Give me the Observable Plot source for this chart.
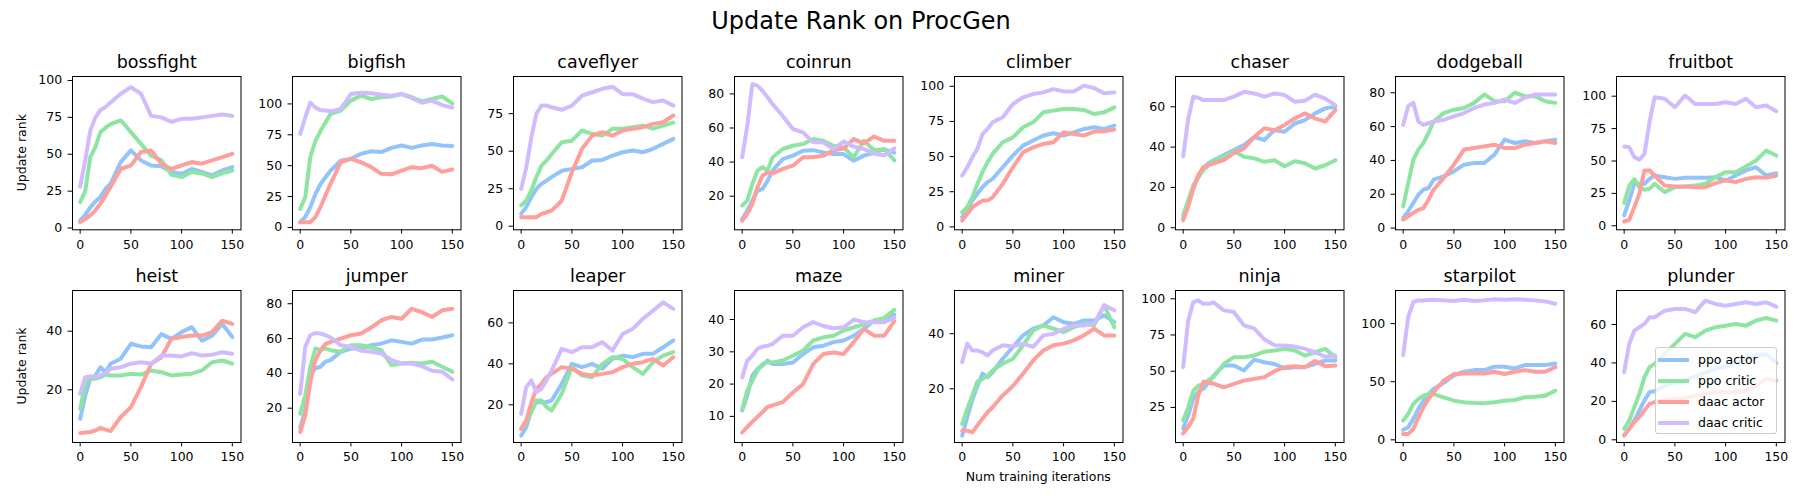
<!DOCTYPE html>
<html><head><meta charset="utf-8">
<script src="https://cdn.jsdelivr.net/npm/d3@7"></script>
<script src="https://cdn.jsdelivr.net/npm/@observablehq/plot@0.6"></script>
<style>
body{margin:0;background:#fff;font-family:"DejaVu Sans",sans-serif;}
#fig{position:relative;width:1800px;height:500px;overflow:hidden;background:#fff;}
#fig svg.pl{position:absolute;}
#legend{position:absolute;left:1655px;top:347px;width:122px;height:87px;border:1px solid #cccccc;border-radius:3px;background:rgba(255,255,255,0.8);box-sizing:border-box;}
.li{position:absolute;left:0;height:20px;width:120px;}
.li svg{position:absolute;left:1px;top:0;}
.li span{position:absolute;left:42px;top:1px;font-size:12.5px;line-height:18px;color:#000;white-space:nowrap;}
</style></head><body><div id="fig"></div>
<script>
// iterations at which values were read
const xs = [0,5,10,15,20,25,30,40,50,60,70,80,90,100,110,120,130,140,150];
const envs = ["bossfight","bigfish","caveflyer","coinrun","climber","chaser","dodgeball","fruitbot",
              "heist","jumper","leaper","maze","miner","ninja","starpilot","plunder"];
const seriesNames = ["ppo actor","ppo critic","daac actor","daac critic"];
const colors = ["#92c3fa","#8de5a1","#ff9f9b","#d0bbff"];
const xTicks = [0,50,100,150];
const xDomain = [-7.55,158.55];
const yTicks = [[0,25,50,75,100],[0,25,50,75,100],[0,25,50,75],[20,40,60,80],[0,25,50,75,100],[0,20,40,60],[0,20,40,60,80],[0,25,50,75,100],
                [20,40],[20,40,60,80],[20,40,60],[10,20,30,40],[20,40],[25,50,75,100],[0,50,100],[0,20,40,60]];
const yDomains = [[-1.2,102.7],[-1.9,122.2],[-2.4,99.8],[0.3,90.2],[-2.1,107],[-1,75],[-1,89.6],[-3.1,115.2],
                  [2,53.9],[0.3,87.6],[1.6,75.8],[1.9,49],[0.5,55.7],[0.8,105.7],[-2.3,128.5],[-1.4,77.7]];

// one row per environment, in envs order
const ppoActor = [
 [5,9,14,18,21,26.6,30,44.7,52.6,45.8,42.4,41.8,38,36.8,40,38,35.7,39,41.3],
 [4.3,8.4,16.4,27,35,40.7,46,54,55.5,59.6,61.7,61,64.4,66.3,64.4,66.3,67.6,66.3,66],
 [8.2,12.7,19.3,24.9,28.2,30.4,32.7,37,38.2,39.3,43.8,44.2,47,49.3,50.4,49.3,51.6,54.9,58.2],
 [6.6,11.5,17.4,23.2,24.2,29,35,41.8,43.8,46.7,47,45.7,44.7,44.7,40.8,43.8,45.5,47.5,45.5],
 [6.9,11.6,18.7,23.5,28.2,31.8,34.1,42.4,50.7,57.8,61.4,65,66.6,65,67.3,69.7,70.9,69.7,72],
 [4.6,12,19.5,26,29.4,32,33.5,36,38.5,41,45,43.5,48.4,47.6,51.7,53.4,56.7,59.2,60],
 [6,10,14.8,19.7,22.7,23.7,28.6,30.6,33.5,37.5,38.5,38.5,43.4,52.3,50.3,51.3,50.3,51.3,52.3],
 [8,19.5,32.4,32.4,32.4,36.2,38.8,37.5,36.2,37,37,37,37.5,35,38.8,42.7,45.2,38.8,40.6],
 [10.1,18,23.8,24.9,27.7,26,28.9,30.6,35.7,34.8,34.5,39,37.4,39.7,41.4,36.8,38.5,42.5,38],
 [8.8,18.7,39,42.9,43.8,46.7,47.6,52.4,54.3,54.3,56.2,57.1,59,58.1,57.1,59.4,59.5,60.6,61.9],
 [5,9.1,17.2,21.3,21.3,21.3,22.1,30.2,40,38.4,40,37.6,42.4,44,43.3,44.9,44.9,48.1,51.4],
 [11.8,16.4,22.6,24.7,25.7,27.3,26.2,26.2,26.7,29.3,31.4,31.9,33,33.5,35,37.1,39.7,39.7,41.5],
 [3,9.7,16,21,25.5,24.2,26,30.9,35.2,39.4,41.8,43,46,44.2,43.6,44.8,44.8,46.7,44.2],
 [10.5,19.7,31.2,35.8,38,42,47,53.9,53.9,50.5,58,56.2,55,52,52.8,52.8,55,57.4,57.4],
 [8.6,10.9,18,26.6,33.7,39.4,43.7,49,55.5,58.6,60,60,62.9,62.9,61.4,64.3,64.3,64.3,65.7],
 [2.3,5.7,10,15.3,20.5,24.8,25.3,28,30,31,33,35,37,38,40,42,44,44.5,40]
];
const ppoCritic = [
 [17.6,25,48,55,65,68,70.5,73,65,57,49,46,36,34.5,38,37,34.5,37,39],
 [15,24.5,57,70,78,85,92,94.6,102.7,106.7,104,105.4,106,108,105.4,102,104,106,100.5],
 [13.8,17,23.8,32.7,40.4,43.8,48,56,57,63.8,61.6,60.4,64.9,64.9,66,67,65,67,69],
 [14.5,17.4,27,35,37,35,42.8,47.7,49.6,50.6,53.5,52.5,49.6,48.6,42.8,52.5,47,47.7,41],
 [10.4,14,21,30.6,38.9,46,51.9,60.2,63.7,70.9,74.4,81.5,82.7,83.9,83.9,83.2,80.3,81.5,85],
 [6.3,13.7,21,25,28.6,31,33.5,35,38,35.2,34.4,32.7,33.5,30.5,33,32,29.4,31,33.5],
 [12.8,26.6,40.4,46.4,50.3,56.2,63,68,70,71,74,79,75,75,80,78,78,75,74],
 [17.5,31,36,29.8,27.8,28.5,32.4,26,29.8,30.3,31,32.4,37.5,41.4,41.4,45.8,50.4,58,54.2],
 [13.5,22,23.8,23.8,24.3,25.2,24.9,24.9,25.5,25.2,26.6,26,24.9,25.2,25.5,26.6,29.4,30,28.9],
 [16.8,27.2,43.8,54.3,53.3,54.3,53.3,52.4,56.2,56.2,54.9,53.3,44.8,45.7,46.1,45.7,46.7,43.8,41],
 [8.3,11.5,16.4,22.1,22.1,18.9,17.2,25.4,38.4,34.3,33.5,40,43.3,42.4,38.4,35.1,40.8,44,45.7],
 [12.3,18,21,24.1,26.2,26.7,26.7,27.3,28.8,30.4,33.5,34.5,35,36.6,37.6,38.5,39.7,40.5,43],
 [7.3,12.7,17.6,22.6,23.6,24.8,26.7,29.1,30.9,35.8,41.2,43,41.8,40.6,42.4,43.6,43,50.3,42.4],
 [16.2,25,36.6,40,41.2,44,46,55,59.7,59.7,60.8,63.5,64.3,65.4,64.3,60.8,63.1,65.4,59.7],
 [16.6,22.3,30.9,35.1,38,39.4,39.4,36.6,33.7,32.3,31.7,31.4,32.3,33.7,34.3,36.6,37.1,38,42.3],
 [5.7,10,17,23.9,32.6,37.8,39.5,44.7,49.9,55.1,53.4,56.8,58.6,59.4,60.3,59.4,62,63.4,62]
];
const daacActor = [
 [4,6,8.6,12,16.5,22,27.8,40,42.4,51.5,52.6,43.6,40,42.4,44.7,43.6,45.8,48,50.3],
 [4.3,4.3,4.3,8.4,16.4,26,35.3,52.8,55.5,52.8,48.8,43.4,43,46,48.8,48,50,45,47],
 [6,6,6,6,8.2,9.3,10.4,17,36,51.6,60.4,62.7,60.4,63.8,64.9,66,68.2,69.3,73.8],
 [5.7,9.6,15.4,25.2,32,34,33.4,36,37.9,42.8,42.8,43.8,47,48,53.5,51,55,52.5,52.5],
 [4.5,9.2,14,16.4,18.7,18.7,21,30.6,42.4,53,56.6,59,60.2,67.3,66,65,67.8,68,69.2],
 [3.8,10.4,19.5,26,30.2,31,32,33.5,37,39.3,45,49.3,48.4,51,54.2,56.7,54.2,52.6,58.3],
 [5,7,8.9,10.8,11.8,16.8,22.7,29.6,37.5,46.4,47.3,48.3,49.3,47.3,47.3,49.3,50.3,51.3,50.3],
 [3.3,4.6,14.4,24.7,42.7,42.7,38.8,31,30.3,30.3,29.8,29.8,32.9,35,33.7,36.2,37.5,37,38.8],
 [5.2,5.4,5.6,6.1,7,6.4,5.9,10.7,14.1,21,28.9,31.1,37.4,38,38.5,38.5,39.7,43.6,42.5],
 [6.3,15.8,35,47.6,53.3,56.8,58.1,60,61.9,62.9,66.3,70.5,72.4,71.4,77.1,75.2,72.4,76.2,77.1],
 [8.3,12.4,21,27.8,30.2,33.5,35.1,38.4,37.6,35.1,34.3,35.1,35.9,38.4,40,40.8,42.4,39.2,43.3],
 [5,6.7,8.3,9.8,11.3,12.9,13.4,14.4,17.4,20,26.2,29.3,29.8,29.3,33,37.1,35,35,39.5],
 [4.8,4.8,4.2,6.7,9.1,11.5,13.3,17.6,21,25.5,30.3,33.9,35.8,36.4,37.6,39.4,41.8,39.4,39.4],
 [7,11.6,17.4,33.5,42.8,42,41.5,38.9,41.2,43.5,44.7,45.9,50,52.8,53.5,52.8,57,53.5,53.9],
 [5.1,5.1,9.4,19.4,28,35.1,40.9,51,56.5,57.1,57.1,57.1,58.6,56.6,58.6,60,58.6,58.6,62.5],
 [2.3,5.7,9.2,11.8,15.3,18.7,19.6,20.8,21.3,21.8,23,23.9,24.8,24.8,24.8,25.6,28.2,31.7,30.8]
];
const daacCritic = [
 [28,46,66,75,80,82,85,91,95.5,91,76,75,72,74,74,75,76,77,76],
 [75.7,89,101,97,95,94.6,94,96,108,109,108.6,107.5,106.7,108,104.8,101,102.7,99,97],
 [24.9,39,59,75,80.4,80.4,79.3,77.6,80.4,87,89.3,91.6,93,88,88,85,82.7,83.8,80.4],
 [42.8,61,85.7,84.8,81.8,78,74,67,59.4,57.4,51.6,51.6,47.7,52,49,47.7,45,44,48],
 [36.5,42.4,49.5,55.5,66,69.7,74.4,78,87.4,92.2,94.5,95.7,98,96.4,96.4,100.5,98.8,95,95.7],
 [35.5,54,65,64.5,63.3,63.3,63.3,63.3,65,67.4,66.6,65,66.6,65.8,62.5,63,66,64,60.8],
 [61,72,74,63,61,62,63,64,66,68,71,73,74,76,74,77,79,79,79],
 [61.2,60.7,53,51,55.5,80,99.2,98,91.5,100.5,94,94,94,95.4,94,98,91.5,92.8,88.4],
 [18.6,24.3,24.5,24.5,24.9,25.7,27.2,27.7,28.9,29.4,28.9,31.7,31.7,31.4,32.5,31.7,32,32.8,32.3],
 [28.2,55.2,61.9,63.2,62.9,61.9,60.6,56.2,55.2,53,52.4,51.4,47.6,45.7,45.7,44.2,41.5,41,36.5],
 [15.6,28.6,31.9,26.2,27.8,31.9,36.7,47.3,45.7,48.1,48.1,50.6,46.5,54.6,57.1,62,66,70,66.8],
 [22.1,27.3,28.8,30.9,31.6,31.9,32.4,35,35,37.6,39.2,38,37.3,37.6,40,39.2,39.2,39.2,40.5],
 [29.7,36.4,33.9,33.9,33.3,32.1,33.9,35.8,35.4,36.4,35.2,39.4,40,41.8,43,43,43.6,50.3,48.5],
 [52.8,85,97.7,98.8,96.5,96.5,97.5,92,90.8,81.6,79.5,72,68,67.7,67,65.4,63.1,60,60.8],
 [72.9,105.7,118.6,120,120,120.3,120.6,120,119.4,120.6,119.4,120,120.9,120.6,120.9,120.6,120,119.1,117.1],
 [35.2,49.9,56.8,58.6,60.3,63.8,63.8,67.2,68.1,68.1,66.4,72.4,70.7,69.8,70.7,71.6,70.7,71.6,69.3]
];
const allSeries = [ppoActor, ppoCritic, daacActor, daacCritic];

const fig = document.getElementById("fig");
const ML = 60, MR = 6, MT = 34, MB = 32, W = 168.5;

// overlay texts
const ov = d3.select(fig).append("svg").attr("width",1800).attr("height",500)
  .style("position","absolute").style("left","0px").style("top","0px")
  .style("font-family","'DejaVu Sans', sans-serif");
ov.append("text").attr("x",861).attr("y",28.5).attr("text-anchor","middle").attr("font-size",24).text("Update Rank on ProcGen");
[152.7, 366].forEach(cy => ov.append("text").attr("transform",`translate(26,${cy}) rotate(-90)`)
  .attr("text-anchor","middle").attr("font-size",12.5).text("Update rank"));
ov.append("text").attr("x",1038.3).attr("y",481).attr("text-anchor","middle").attr("font-size",12.5).text("Num training iterations");

envs.forEach((env, i) => {
  const r = Math.floor(i / 8), c = i % 8;
  const L = 71.7 + 220.6 * c, T = r === 0 ? 76 : 290, H = r === 0 ? 153.3 : 152;
  const rows = [];
  seriesNames.forEach((s, k) => {
    const arr = allSeries[k][i];
    xs.forEach((x, j) => rows.push({x, y: arr[j], s}));
  });
  const chart = Plot.plot({
    width: ML + W + MR, height: MT + H + MB,
    marginLeft: ML, marginRight: MR, marginTop: MT, marginBottom: MB,
    style: {background: "transparent", overflow: "visible", fontFamily: "'DejaVu Sans', sans-serif", fontSize: "12.5px", color: "#000"},
    x: {domain: xDomain, ticks: xTicks, tickSize: 4.4, tickPadding: 5.5, label: null},
    y: {domain: yDomains[i], ticks: yTicks[i], tickSize: 4.4, tickPadding: 6, label: null},
    color: {domain: seriesNames, range: colors},
    marks: [
      Plot.line(rows, {x: "x", y: "y", z: "s", stroke: "s", strokeWidth: 4, strokeLinejoin: "round", clip: true}),
      Plot.frame({stroke: "#000", strokeWidth: 1}),
      Plot.text([env], {frameAnchor: "top", dy: -8.5, lineAnchor: "bottom", fontSize: 17.5, text: d => d, fill: "#000"})
    ]
  });
  chart.classList.add("pl");
  chart.style.left = (L - ML) + "px";
  chart.style.top = (T - MT) + "px";
  chart.style.maxWidth = "none";
  fig.appendChild(chart);
});

// legend (inside plunder panel)
const lg = document.createElement("div");
lg.id = "legend";
seriesNames.forEach((s, k) => {
  const d = document.createElement("div");
  d.className = "li";
  d.style.top = (2 + k * 21) + "px";
  d.innerHTML = `<svg width="34" height="20"><line x1="1" x2="32" y1="10" y2="10" stroke="${colors[k]}" stroke-width="4"/></svg><span>${s}</span>`;
  lg.appendChild(d);
});
fig.appendChild(lg);
</script></body></html>
